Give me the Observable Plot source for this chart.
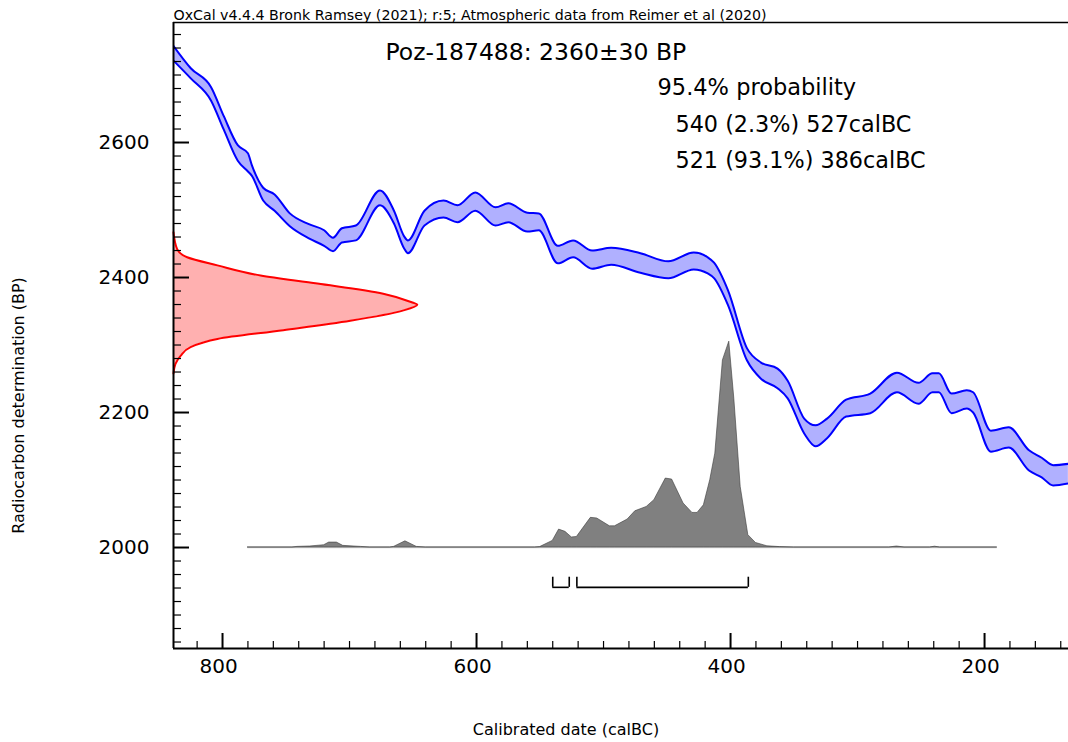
<!DOCTYPE html>
<html><head><meta charset="utf-8">
<script src="https://cdn.jsdelivr.net/npm/d3@7"></script>
<script src="https://cdn.jsdelivr.net/npm/@observablehq/plot@0.6"></script>
<style>body{margin:0;background:#fff;} #chart svg{display:block;}</style>
</head><body><div id="chart"></div>
<script>
// ---- text ----
const headerText = "OxCal v4.4.4 Bronk Ramsey (2021); r:5; Atmospheric data from Reimer et al (2020)";
const sampleLabel = "Poz-187488: 2360±30 BP";
const probLabel = "95.4% probability";
const xTitle = "Calibrated date (calBC)";
const yTitle = "Radiocarbon determination (BP)";
// ---- ranges (calBC) ----
const rangeStart = [540, 521];
const rangeEnd = [527, 386];
const rangePct = [2.3, 93.1];
// ---- tick labels ----
const xTickLabels = [800, 600, 400, 200];
const yTickLabels = [2000, 2200, 2400, 2600];
// ---- calibration curve (calBC, BP upper / lower) ----
const curveYear = [839,825,809,799,788,780,777,768,759,747,732,720,713,706,695,676,665,657,654,641,626,615,601,585,575,560,551,536,524,509,494,471,449,429,418,413,402,387,376,363,355,342,333,324,309,290,269,252,241,236,226,214,209,195,181,165,155,146,134];
const curveUpper = [2744,2710,2682,2639,2596,2584,2567,2533,2523,2495,2479,2470,2459,2473,2477,2529,2499,2461,2455,2499,2514,2507,2526,2504,2510,2496,2495,2447,2455,2440,2444,2436,2424,2437,2430,2422,2381,2295,2274,2265,2247,2191,2181,2191,2219,2228,2259,2244,2258,2258,2228,2233,2230,2173,2178,2144,2133,2122,2124];
const curveLower = [2722,2695,2662,2619,2573,2557,2551,2514,2499,2476,2458,2447,2439,2452,2455,2507,2480,2443,2436,2477,2489,2482,2499,2477,2482,2468,2470,2421,2430,2413,2419,2407,2399,2412,2406,2399,2359,2277,2250,2236,2221,2169,2150,2162,2194,2199,2230,2213,2230,2230,2199,2206,2200,2142,2148,2114,2104,2092,2095];
// ---- measurement (BP, relative probability) ----
const measBP = [2258,2272,2284,2297,2309,2322,2336,2351,2360,2363,2376,2391,2403,2418,2430,2442,2467];
const measProb = [0,0.008,0.029,0.07,0.18,0.45,0.725,0.94,1,0.98,0.86,0.59,0.357,0.18,0.056,0.015,0];
// ---- calibrated posterior (calBC, relative probability) ----
const postYear = [780,745,741,731,720,716,710,705,691,684,668,665,656,647,640,554,550,540,535,530,525,521,510,505,495,491,481,475,466,460,451,446,437,430,426,421,416,412,406,401,397,392,386,380,371,361,350,275,269,263,243,239,235,190];
const postProb = [0,0,0.003,0.005,0.011,0.024,0.024,0.008,0.003,0,0,0.003,0.03,0.003,0,0,0.002,0.032,0.087,0.076,0.049,0.051,0.144,0.141,0.103,0.103,0.136,0.176,0.197,0.23,0.335,0.33,0.214,0.168,0.168,0.205,0.327,0.456,0.909,1.0,0.72,0.294,0.06,0.022,0.006,0.002,0,0,0.005,0,0,0.004,0,0];

// ---- tables ----
const curve = curveYear.map((y, i) => ({year: y, hi: curveUpper[i], lo: curveLower[i]}));
const meas = measBP.map((b, i) => ({bp: b, p: measProb[i]}));
const post = postYear.map((y, i) => ({year: y, p: postProb[i]}));
const ranges = rangeStart.map((s, i) => ({s, e: rangeEnd[i], pct: rangePct[i]}));
const rangeLabels = ranges.map(r => `${r.s} (${r.pct}%) ${r.e}calBC`);

// ---- layout ----
const W = 1068, H = 742, mL = 173, mT = 22, mB = 94, mR = 0;
const plotW = W - mL - mR, plotH = H - mT - mB;
const xDomain = [838.6, 133.9];
const yDomain = [1850.4, 2777.8];
const xLeft = xDomain[0];
const measScale = 192;   // years per unit of relative probability
const postScale = 305;   // BP per unit of relative probability
const postBase = 2000;
const brBottom = 1941, brTop = 1956;

const xMinor = d3.range(140, 839, 20).filter(v => v % 200 !== 0);
const yMinor = d3.range(1860, 2778, 20).filter(v => v % 200 !== 0);
const font = "DejaVu Sans";

const chart = Plot.plot({
  width: W, height: H,
  marginLeft: mL, marginTop: mT, marginBottom: mB, marginRight: mR,
  x: {domain: xDomain},
  y: {domain: yDomain},
  style: {fontFamily: font, background: "white", color: "black"},
  marks: [
    // posterior baseline + histogram
    Plot.ruleY([postBase], {x1: postYear[0], x2: postYear[postYear.length - 1], stroke: "#d4d4d4", strokeWidth: 1.5}),
    Plot.areaY(post, {x: "year", y1: postBase, y2: d => postBase + d.p * postScale, fill: "#808080", stroke: "#3a3a3a", strokeWidth: 0.6}),
    // calibration curve band
    Plot.areaY(curve, {x: "year", y1: "lo", y2: "hi", fill: "#b0b0ff", curve: "monotone-x", clip: true}),
    Plot.line(curve, {x: "year", y: "hi", stroke: "#0000ff", strokeWidth: 2, curve: "monotone-x", clip: true}),
    Plot.line(curve, {x: "year", y: "lo", stroke: "#0000ff", strokeWidth: 2, curve: "monotone-x", clip: true}),
    // measurement distribution
    Plot.areaX(meas, {y: "bp", x1: xLeft, x2: d => xLeft - d.p * measScale, fill: "#ffb0b0", curve: "monotone-y"}),
    Plot.line(meas, {y: "bp", x: d => xLeft - d.p * measScale, stroke: "#ff0000", strokeWidth: 2, curve: "monotone-y"}),
    // range brackets
    Plot.ruleY(ranges, {x1: "s", x2: "e", y: brBottom, stroke: "black", strokeWidth: 1.6}),
    Plot.ruleX(ranges, {x: "s", y1: brBottom, y2: brTop, stroke: "black", strokeWidth: 1.6}),
    Plot.ruleX(ranges, {x: "e", y1: brBottom, y2: brTop, stroke: "black", strokeWidth: 1.6}),
    // frame
    Plot.ruleX([xLeft], {stroke: "black", strokeWidth: 2}),
    Plot.ruleY([yDomain[0]], {stroke: "black", strokeWidth: 2}),
    Plot.ruleY([yDomain[1]], {stroke: "black", strokeWidth: 1.5}),
    // ticks (inward)
    Plot.ruleX(xMinor, {insetTop: plotH - 7, stroke: "black", strokeWidth: 1.2}),
    Plot.ruleX(xTickLabels, {insetTop: plotH - 15, stroke: "black", strokeWidth: 2}),
    Plot.ruleY(yMinor, {insetRight: plotW - 8, stroke: "black", strokeWidth: 1.2}),
    Plot.ruleY(yTickLabels, {insetRight: plotW - 16, stroke: "black", strokeWidth: 2}),
    // axes labels
    Plot.axisX(xTickLabels, {tickSize: 0, tickPadding: 10, fontSize: 20, dx: -4, label: null, tickFormat: d => String(d)}),
    Plot.axisY(yTickLabels, {tickSize: 0, tickPadding: 24, fontSize: 20, label: null, tickFormat: d => String(d)}),
    // titles
    Plot.text([headerText], {frameAnchor: "top-left", textAnchor: "start", lineAnchor: "bottom", dy: -3, fontSize: 14.2}),
    Plot.text([xTitle], {frameAnchor: "bottom", lineAnchor: "middle", dx: -55, dy: 81, fontSize: 16}),
    Plot.text([yTitle], {frameAnchor: "left", textAnchor: "middle", lineAnchor: "middle", rotate: -90, dx: -155, dy: 70, fontSize: 16}),
    // annotations
    Plot.text([sampleLabel], {frameAnchor: "top-left", textAnchor: "start", lineAnchor: "middle", dx: 212, dy: 30, fontSize: 23.5}),
    Plot.text([probLabel], {frameAnchor: "top-left", textAnchor: "start", lineAnchor: "middle", dx: 484, dy: 65, fontSize: 22.5}),
    Plot.text(rangeLabels, {frameAnchor: "top-left", textAnchor: "start", lineAnchor: "middle", dx: 502, fontSize: 22.3, filter: (d, i) => i === 0, dy: 102}),
    Plot.text(rangeLabels, {frameAnchor: "top-left", textAnchor: "start", lineAnchor: "middle", dx: 502, fontSize: 22.3, filter: (d, i) => i === 1, dy: 138})
  ]
});
document.getElementById("chart").append(chart);
</script>
</body></html>
